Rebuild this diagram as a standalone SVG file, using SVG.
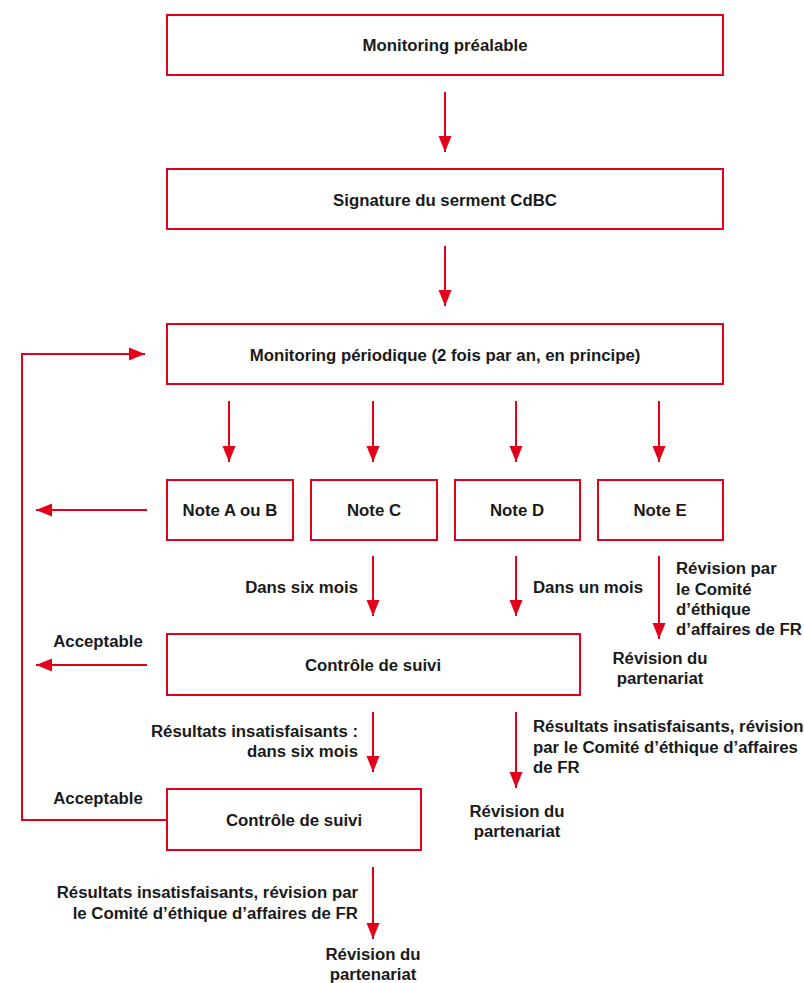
<svg xmlns="http://www.w3.org/2000/svg" width="804" height="983" viewBox="0 0 804 983">
<defs>
<marker id="ah" markerUnits="userSpaceOnUse" markerWidth="18" markerHeight="14" refX="16" refY="7" orient="auto">
<path d="M0,0.5 L16,7 L0,13.5 Z" fill="#e2001a"/>
</marker>
<style>
.box{fill:#fff;stroke:#e2001a;stroke-width:2}
.t{font-family:"Liberation Sans",Arial,Helvetica,sans-serif;font-weight:bold;font-size:16.8px;fill:#1a1a1a}
.c{text-anchor:middle}
.e{text-anchor:end}
.ln{fill:none;stroke:#e2001a;stroke-width:2}
.ar{fill:none;stroke:#e2001a;stroke-width:2;marker-end:url(#ah)}
</style>
</defs>
<rect width="804" height="983" fill="#fff"/>
<g id="n-prealable"><rect class="box" x="167" y="15" width="556" height="60"/><text class="t c" x="445" y="51">Monitoring préalable</text></g>
<g id="n-signature"><rect class="box" x="167" y="169" width="556" height="60"/><text class="t c" x="445" y="206">Signature du serment CdBC</text></g>
<g id="n-periodique"><rect class="box" x="167" y="324" width="556" height="60"/><text class="t c" x="445" y="361">Monitoring périodique (2 fois par an, en principe)</text></g>
<g id="n-noteAB"><rect class="box" x="167" y="480" width="126" height="60"/><text class="t c" x="230" y="516">Note A ou B</text></g>
<g id="n-noteC"><rect class="box" x="311" y="480" width="126" height="60"/><text class="t c" x="374" y="516">Note C</text></g>
<g id="n-noteD"><rect class="box" x="455" y="480" width="125" height="60"/><text class="t c" x="517" y="516">Note D</text></g>
<g id="n-noteE"><rect class="box" x="598" y="480" width="125" height="60"/><text class="t c" x="660" y="516">Note E</text></g>
<g id="n-controle1"><rect class="box" x="167" y="634" width="413" height="61"/><text class="t c" x="373" y="671">Contrôle de suivi</text></g>
<g id="n-controle2"><rect class="box" x="167" y="789" width="254" height="61"/><text class="t c" x="294" y="826">Contrôle de suivi</text></g>
<g id="connectors">
<line class="ar" x1="445" y1="92" x2="445" y2="152"/>
<line class="ar" x1="445" y1="246" x2="445" y2="306"/>
<line class="ar" x1="229" y1="401" x2="229" y2="462"/>
<line class="ar" x1="373" y1="401" x2="373" y2="462"/>
<line class="ar" x1="516" y1="401" x2="516" y2="462"/>
<line class="ar" x1="659" y1="401" x2="659" y2="462"/>
<line class="ar" x1="147" y1="510" x2="36" y2="510"/>
<line class="ar" x1="373" y1="556" x2="373" y2="616"/>
<line class="ar" x1="516" y1="556" x2="516" y2="616"/>
<line class="ar" x1="659" y1="556" x2="659" y2="639"/>
<line class="ar" x1="147" y1="665" x2="36" y2="665"/>
<line class="ar" x1="373" y1="712" x2="373" y2="772"/>
<line class="ar" x1="516" y1="712" x2="516" y2="788"/>
<line class="ar" x1="373" y1="867" x2="373" y2="939"/>
<polyline class="ar" points="167,820 22,820 22,354 145,354"/>
</g>
<g id="labels">
<text class="t e" x="358" y="593">Dans six mois</text>
<text class="t" x="533" y="593">Dans un mois</text>
<text class="t" x="676" y="574">Révision par</text>
<text class="t" x="676" y="594.5">le Comité</text>
<text class="t" x="676" y="615">d’éthique</text>
<text class="t" x="676" y="635">d’affaires de FR</text>
<text class="t c" x="660" y="664">Révision du</text>
<text class="t c" x="660" y="684">partenariat</text>
<text class="t c" x="98" y="647">Acceptable</text>
<text class="t e" x="358" y="737">Résultats insatisfaisants :</text>
<text class="t e" x="358" y="757">dans six mois</text>
<text class="t" x="533" y="732">Résultats insatisfaisants, révision</text>
<text class="t" x="533" y="753">par le Comité d’éthique d’affaires</text>
<text class="t" x="533" y="773">de FR</text>
<text class="t c" x="517" y="817">Révision du</text>
<text class="t c" x="517" y="837">partenariat</text>
<text class="t c" x="98" y="804">Acceptable</text>
<text class="t e" x="358" y="898">Résultats insatisfaisants, révision par</text>
<text class="t e" x="358" y="919">le Comité d’éthique d’affaires de FR</text>
<text class="t c" x="373" y="960">Révision du</text>
<text class="t c" x="373" y="980">partenariat</text>
</g>
</svg>
